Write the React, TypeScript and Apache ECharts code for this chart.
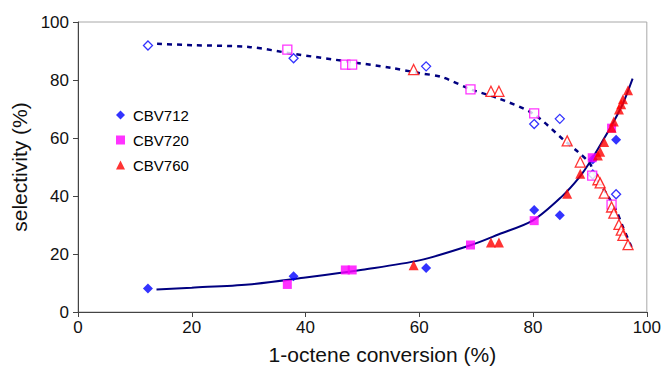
import React, { useEffect, useRef } from "react";
import * as echarts from "echarts";

// 1-octene conversion (%) for each catalyst sample
const cbv712X = [12.3, 37.9, 61.2, 80.2, 84.7, 90.5, 94.6];
const cbv712Sel = [8.1, 12.3, 15.2, 35.2, 33.4, 52.6, 59.4];
const cbv712Other = [91.9, 87.5, 84.7, 64.8, 66.6, 47.4, 40.6];

const cbv720X = [36.8, 47.0, 48.2, 69.0, 80.2, 90.4, 93.8];
const cbv720Sel = [9.5, 14.5, 14.5, 23.1, 31.5, 53.2, 63.4];
const cbv720Other = [90.5, 85.3, 85.3, 76.8, 68.5, 47.0, 37.0];

const cbv760X = [59.0, 72.6, 74.0, 86.0, 88.3, 91.4, 91.8, 92.5, 93.8, 94.2, 95.1, 95.5, 95.8, 96.7];
const cbv760Sel = [16.1, 24.0, 24.0, 40.8, 47.7, 54.0, 55.3, 58.6, 63.5, 65.7, 69.8, 71.6, 73.4, 76.5];
const cbv760Other = [83.6, 76.1, 76.1, 59.0, 51.7, 45.6, 44.5, 41.0, 36.2, 34.1, 30.2, 28.2, 26.4, 23.2];

// trend curves
const riseX = [13.8, 20, 30, 40, 50, 60, 69, 74, 80, 85, 88.2, 90.2, 92.3, 94, 95.8, 97.5];
const riseY = [7.8, 8.4, 9.5, 11.9, 14.6, 17.8, 23, 26.8, 31.6, 39.7, 46.6, 52.3, 59.2, 65, 71.9, 80.5];
const fallX = [13.9, 20, 30, 38, 48, 55, 60, 64, 69, 74, 80, 85.3, 87.9, 90, 90.8, 92.9, 94.6, 95.8, 97.3];
const fallY = [92.5, 92, 91.4, 89, 86.2, 84.2, 82.4, 81, 76.8, 73.6, 68.4, 59.5, 55.2, 51.2, 47.1, 40.8, 35.1, 29.3, 22.4];

const xTicks = [0, 20, 40, 60, 80, 100];

const FONT = "'Liberation Sans', Arial, sans-serif";
const zip = (xs: number[], ys: number[]) => xs.map((x, i) => [x, ys[i]]);

export default function App() {
  const ref = useRef<HTMLDivElement>(null);

  useEffect(() => {
    document.body.style.margin = "0";
    const chart = echarts.init(ref.current!, undefined, { renderer: "svg" });

    const filled = (name: string, sym: string, color: string, size: number, xs: number[], ys: number[]) => ({
      name,
      type: "scatter",
      symbol: sym,
      symbolSize: size,
      data: zip(xs, ys),
      itemStyle: { color },
      z: 4,
    });
    const hollow = (name: string, sym: string, color: string, size: number, xs: number[], ys: number[]) => ({
      name,
      type: "scatter",
      symbol: sym,
      symbolSize: size,
      data: zip(xs, ys),
      itemStyle: { color: "#ffffff", borderColor: color, borderWidth: 1.3 },
      z: 3,
    });

    chart.setOption({
      animation: false,
      textStyle: { fontFamily: FONT },
      grid: {
        left: 78,
        right: 17,
        top: 22,
        bottom: 58,
        show: true,
        borderColor: "#a8a8a8",
        borderWidth: 1,
      },
      legend: {
        data: ["CBV712", "CBV720", "CBV760"],
        orient: "vertical",
        left: 111,
        top: 101,
        itemWidth: 9,
        itemHeight: 9,
        itemGap: 7,
        textStyle: { fontSize: 15, color: "#000", fontFamily: FONT, lineHeight: 18, padding: [0, 0, 0, 3] },
      },
      xAxis: {
        type: "value",
        min: 0,
        max: 100,
        interval: 20,
        name: "1-octene conversion (%)",
        nameLocation: "middle",
        nameGap: 32,
        nameTextStyle: { fontSize: 21, color: "#111", fontFamily: FONT, padding: [0, 0, 0, 40] },
        axisLine: { show: true, lineStyle: { color: "#444", width: 1 } },
        axisTick: { show: true, length: 5, inside: false, lineStyle: { color: "#444" } },
        axisLabel: {
          fontSize: 17,
          color: "#111",
          margin: 7,
          formatter: (v: number) => (xTicks.includes(v) ? String(v) : ""),
        },
        splitLine: { show: false },
      },
      yAxis: {
        type: "value",
        min: 0,
        max: 100,
        interval: 20,
        name: "selectivity (%)",
        nameLocation: "middle",
        nameGap: 46,
        nameTextStyle: { fontSize: 21, color: "#111", fontFamily: FONT },
        axisLine: { show: true, lineStyle: { color: "#444", width: 1 } },
        axisTick: { show: true, length: 5, inside: false, lineStyle: { color: "#444" } },
        axisLabel: { fontSize: 17, color: "#111", margin: 9 },
        splitLine: { show: false },
      },
      series: [
        {
          name: "rise",
          type: "line",
          data: zip(riseX, riseY),
          smooth: 0.3,
          showSymbol: false,
          symbol: "none",
          lineStyle: { color: "#000080", width: 2 },
          z: 2,
        },
        {
          name: "fall",
          type: "line",
          data: zip(fallX, fallY),
          smooth: 0.3,
          showSymbol: false,
          symbol: "none",
          lineStyle: { color: "#000080", width: 2.5, type: [5, 5] },
          z: 2,
        },
        hollow("CBV712 b", "diamond", "#0000ff", 9, cbv712X, cbv712Other),
        hollow("CBV720 b", "rect", "#ff00ff", 9, cbv720X, cbv720Other),
        hollow("CBV760 b", "triangle", "#ff0000", 10, cbv760X, cbv760Other),
        filled("CBV712", "diamond", "#0000ff", 10, cbv712X, cbv712Sel),
        filled("CBV720", "rect", "#ff00ff", 9, cbv720X, cbv720Sel),
        filled("CBV760", "triangle", "#ff0000", 10, cbv760X, cbv760Sel),
      ],
    });

    return () => chart.dispose();
  }, []);

  return (
    <div
      ref={ref}
      style={{ position: "absolute", left: 0, top: 0, width: 664, height: 370, background: "#fff" }}
    />
  );
}
